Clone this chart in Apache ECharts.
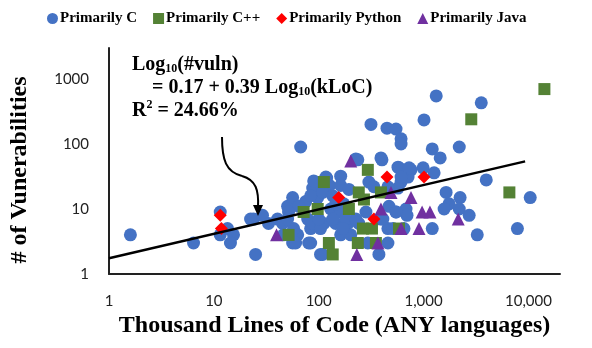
<!DOCTYPE html>
<html>
<head>
<meta charset="utf-8">
<script src="https://cdn.jsdelivr.net/npm/echarts@6/dist/echarts.min.js"></script>
<style>
  html, body { margin: 0; padding: 0; background: #fff; }
  #chart { width: 592px; height: 348px; }
</style>
</head>
<body>
<div id="chart"></div>
<script>
// kLoC / vulnerability counts
const cKloc = [1.6, 6.4, 11.5, 11.5, 13.5, 15.4, 14.4, 22.4, 23.9, 29.1,
  25, 33.2, 40.5, 45.3, 50.5, 56.4, 67.3, 56.4, 63, 80.2,
  83.8, 75.1, 87.6, 97.8, 89.6, 104, 119, 127, 162, 162,
  226, 392, 301, 336, 64.4, 83.8, 109, 136, 173, 130,
  162, 78.5, 87.6, 112, 145, 190, 241, 392, 457, 57.6,
  46.2, 104, 162, 202, 294, 60.2, 51.6, 50.5,
  570, 759, 117, 610, 711, 570, 194, 457, 145, 282,
  468, 546, 680, 100, 136, 181, 511, 226, 409, 170,
  457, 375, 109, 83.8, 1320, 3550, 1010, 315, 448, 546,
  610, 610, 1210, 2190, 1440, 236, 401, 583, 727, 990,
  1260, 610, 3960, 1640, 2230, 1750, 1570, 2190, 2720, 695,
  1210, 3250, 7850, 10400, 546, 650];
const cVulns = [4, 3, 9, 4, 5, 4, 3, 7, 7, 8,
  2, 6, 7, 6, 11, 15, 90, 3, 4, 3,
  5, 13, 21, 15, 27, 2, 30, 23, 32, 23,
  59, 61, 26, 22, 11, 16, 18, 16, 12, 10,
  9, 7, 6, 6, 6, 6, 6, 7, 5, 5,
  4, 5, 4, 4, 3, 3, 9, 7,
  44, 40, 31, 26, 31, 21, 20, 22, 12, 9,
  11, 9, 10, 7, 7, 7, 5, 7, 7, 5,
  3, 2, 2, 3, 550, 430, 235, 200, 175, 170,
  120, 100, 84, 90, 61, 57, 57, 43, 43, 43,
  36, 31, 28, 18, 15, 12, 10, 10, 8, 8,
  5, 4, 5, 15, 9, 5];

const cppKloc = [51.6, 71.8, 97.8, 112, 125, 136, 294, 241, 392, 194, 270, 264, 322, 236, 351, 583, 6580, 2850, 14200];
const cppVulns = [4, 9, 10, 26, 3, 2, 40, 18, 18, 10, 14, 5, 5, 3, 3, 5, 18, 240, 700];

const pyKloc = [11.5, 11.8, 155, 448, 336, 1010];
const pyVulns = [8, 5, 15, 31, 7, 31];

const javaKloc = [39.6, 202, 489, 759, 392, 610, 367, 231, 968, 1150, 2140, 905];
const javaVulns = [4, 55, 18, 15, 10, 5, 3, 2, 9, 9, 7, 5];

// fitted line end points
const trendKloc = [1, 9300];
const trendVulns = [1.75, 54];

function zip(xs, ys) {
  return xs.map((x, i) => [x, ys[i]]);
}

const serif = "'Liberation Serif', 'Times New Roman', serif";
const sans = "Lato, 'Open Sans', sans-serif";

const big = { font: "bold 20px " + serif, fill: "#000", lineHeight: 22, verticalAlign: "bottom" };
const sub = { font: "bold 12px " + serif, fill: "#000", lineHeight: 12, verticalAlign: "bottom" };
const sup = { font: "bold 12px " + serif, fill: "#000", lineHeight: 15, verticalAlign: "top" };

const chart = echarts.init(document.getElementById("chart"));
const option = {
  animation: false,
  legend: {
    left: 42,
    top: 6,
    itemWidth: 11,
    itemHeight: 11,
    itemGap: 16,
    data: ["Primarily C", "Primarily C++", "Primarily Python", "Primarily Java"],
    textStyle: {
      fontFamily: serif,
      fontWeight: "bold",
      fontSize: 15,
      color: "#000",
      padding: [0, 0, 0, -3],
    },
  },
  grid: {
    left: 109,
    right: 32,
    top: 48,
    bottom: 74,
  },
  xAxis: {
    type: "log",
    logBase: 10,
    min: 1,
    max: 20000,
    name: "Thousand Lines of Code (ANY languages)",
    nameLocation: "middle",
    nameGap: 39,
    nameTextStyle: {
      fontFamily: serif,
      fontWeight: "bold",
      fontSize: 24,
      color: "#000",
    },
    axisLine: { lineStyle: { color: "#222", width: 2 } },
    axisTick: { show: false },
    splitLine: { show: false },
    axisLabel: {
      showMaxLabel: false,
      margin: 20,
      fontFamily: sans,
      fontSize: 15,
      color: "#222",
      formatter: (v) => Math.round(v).toLocaleString("en-US"),
    },
  },
  yAxis: {
    type: "log",
    logBase: 10,
    min: 1,
    max: 3000,
    axisLine: { show: true, lineStyle: { color: "#222", width: 2 } },
    axisTick: { show: false },
    splitLine: { show: false },
    axisLabel: {
      showMaxLabel: false,
      margin: 20,
      fontFamily: sans,
      fontSize: 15,
      color: "#222",
      formatter: (v) => String(Math.round(v)),
    },
  },
  graphic: [
    {
      type: "text",
      x: 20,
      y: 170,
      rotation: Math.PI / 2,
      style: {
        text: "# of Vunerabilities",
        font: "bold 24px " + serif,
        fill: "#000",
        align: "center",
        verticalAlign: "middle",
      },
    },
    {
      type: "text",
      x: 132,
      y: 53,
      style: {
        text: "{n|Log}{s|10}{n|(#vuln)}",
        rich: { n: big, s: sub },
      },
    },
    {
      type: "text",
      x: 152,
      y: 76,
      style: {
        text: "{n|= 0.17 + 0.39 Log}{s|10}{n|(kLoC)}",
        rich: { n: big, s: sub },
      },
    },
    {
      type: "text",
      x: 132,
      y: 99,
      style: {
        text: "{n|R}{p|2}{n| = 24.66%}",
        rich: { n: big, p: sup },
      },
    },
    {
      type: "bezierCurve",
      z: 10,
      shape: { x1: 222, y1: 137, cpx1: 222, cpy1: 160, cpx2: 226, cpy2: 172, x2: 242, y2: 176 },
      style: { fill: "none", stroke: "#000", lineWidth: 2 },
    },
    {
      type: "bezierCurve",
      z: 10,
      shape: { x1: 242, y1: 176, cpx1: 256, cpy1: 180, cpx2: 259, cpy2: 190, x2: 258, y2: 208 },
      style: { fill: "none", stroke: "#000", lineWidth: 2 },
    },
    {
      type: "polygon",
      z: 10,
      shape: { points: [[253, 205], [263, 205], [258, 216]] },
      style: { fill: "#000" },
    },
  ],
  series: [
    {
      name: "Primarily C",
      type: "scatter",
      symbol: "circle",
      symbolSize: 13,
      itemStyle: { color: "#4472C4", opacity: 1 },
      data: zip(cKloc, cVulns),
    },
    {
      name: "Primarily C++",
      type: "scatter",
      symbol: "rect",
      symbolSize: 12,
      itemStyle: { color: "#548235", opacity: 1 },
      data: zip(cppKloc, cppVulns),
    },
    {
      name: "Primarily Python",
      type: "scatter",
      symbol: "diamond",
      symbolSize: 13,
      itemStyle: { color: "#FF0000", opacity: 1 },
      data: zip(pyKloc, pyVulns),
    },
    {
      name: "Primarily Java",
      type: "scatter",
      symbol: "triangle",
      symbolSize: 13,
      itemStyle: { color: "#7030A0", opacity: 1 },
      data: zip(javaKloc, javaVulns),
    },
    {
      name: "trend",
      type: "line",
      z: 5,
      symbol: "none",
      silent: true,
      lineStyle: { color: "#000", width: 2.5 },
      data: zip(trendKloc, trendVulns),
    },
  ],
};
chart.setOption(option);
</script>
</body>
</html>
